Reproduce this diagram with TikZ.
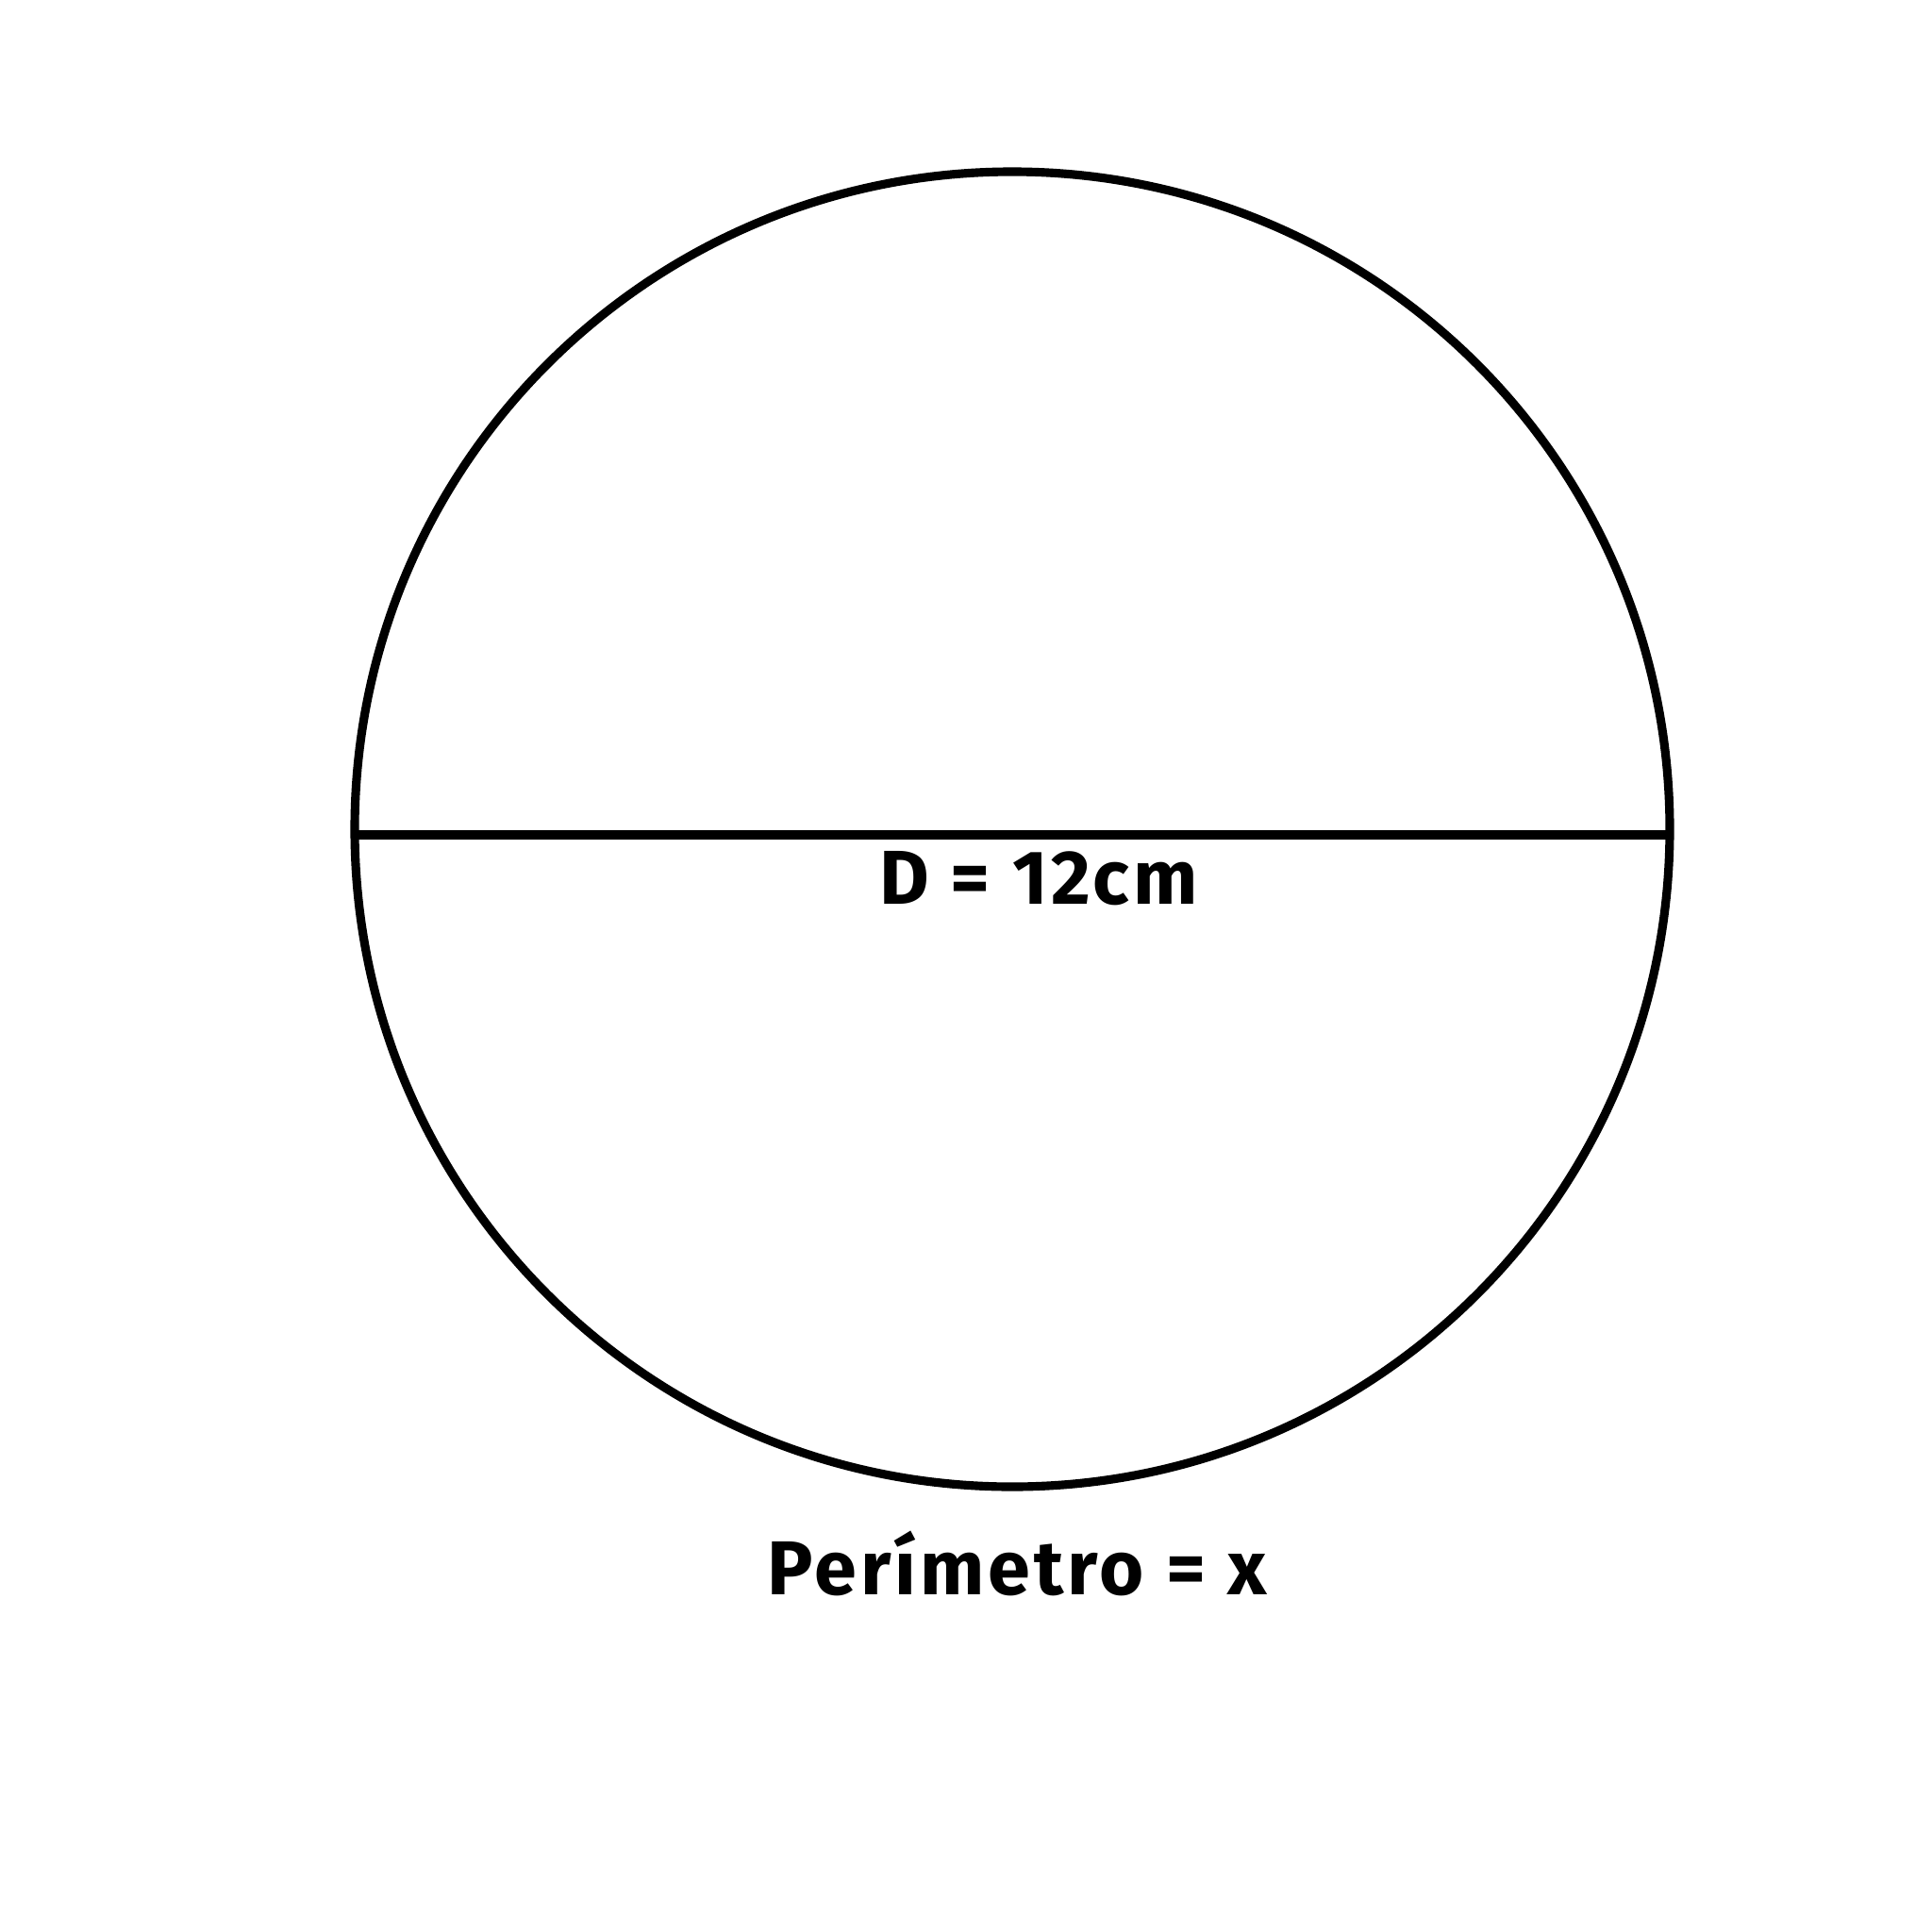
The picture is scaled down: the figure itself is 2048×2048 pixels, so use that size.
\documentclass[tikz,border=0pt]{standalone}
\usepackage{fontspec}
\setmainfont{Fira Sans}[LetterSpace=5]
\usetikzlibrary{positioning}

\begin{document}
\begin{tikzpicture}[x=0.01cm, y=-0.01cm, line width=2.6pt,
  label/.style={font=\fontsize{23}{27}\selectfont\bfseries, inner sep=0pt}]
      \useasboundingbox (0,0) rectangle (2048,2048);

      % Circle
      \coordinate (o) at (1073,879);
      \draw (o) circle [radius=697];

      % Diameter
      \coordinate (dl) at (377,885);
      \coordinate (dr) at (1770,885);
      \draw (dl) -- (dr);
      \node[label, anchor=base] (diam) at (1101,958) {D = 12cm};

      % Perimeter
      \node[label, anchor=base] (perim) at (1078,1690) {Perímetro = x};
\end{tikzpicture}
\end{document}
